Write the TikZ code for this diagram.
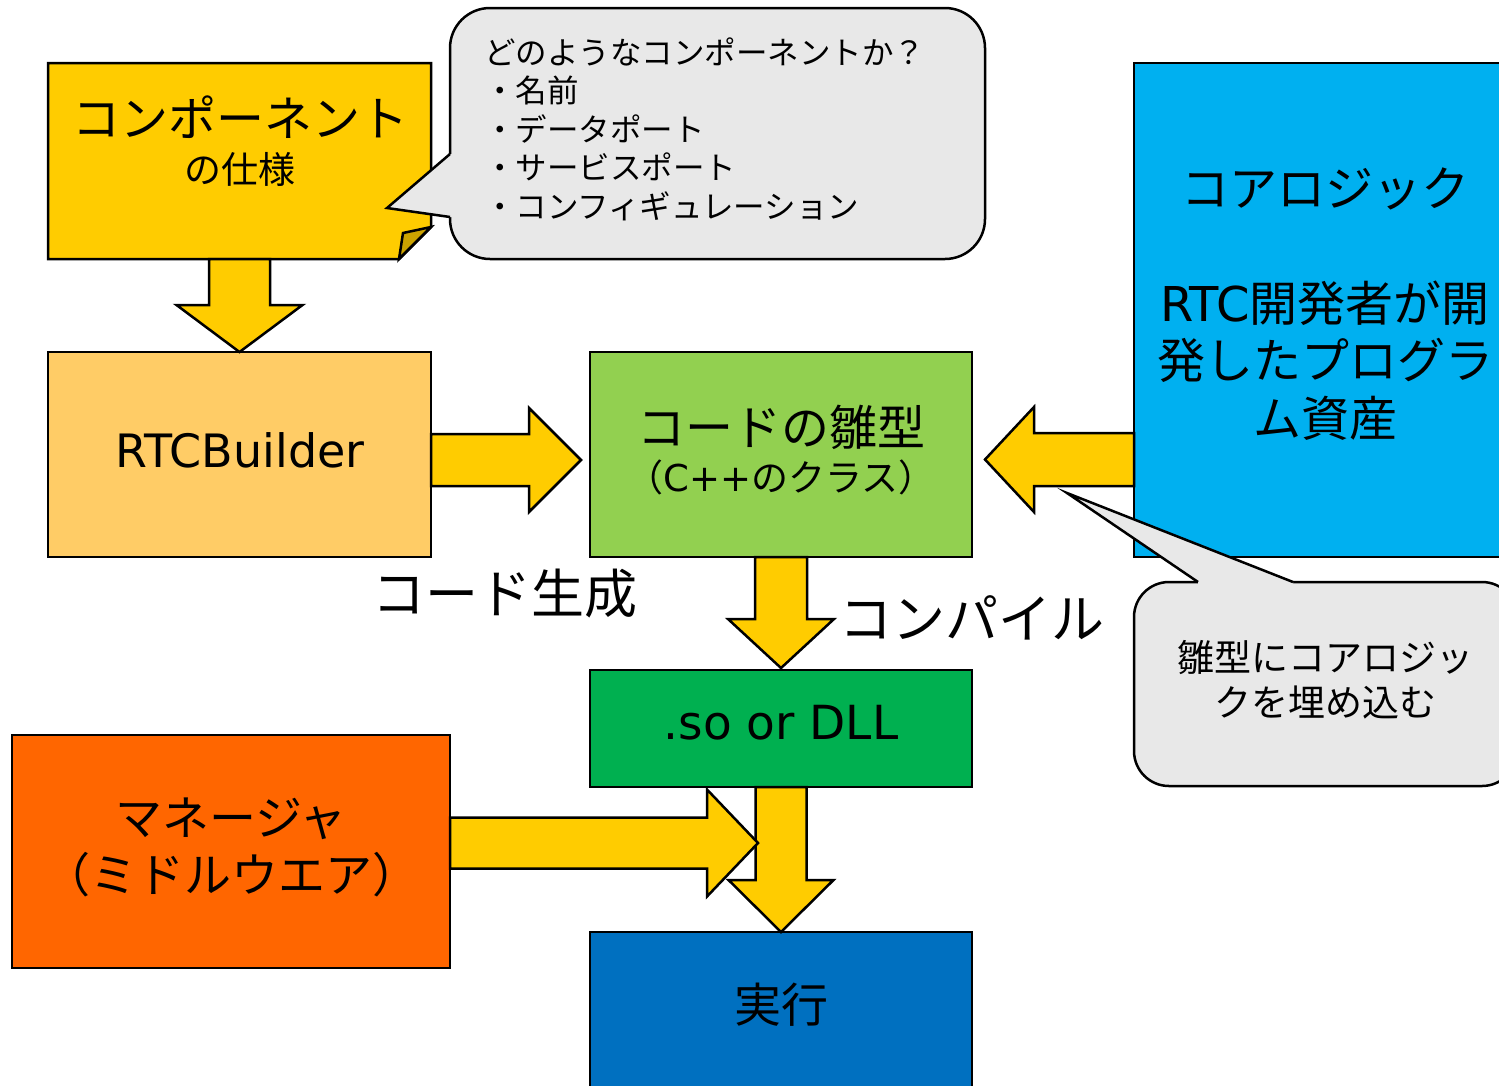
\documentclass[tikz,border=0pt]{standalone}
\usepackage{fontspec}
\setmainfont{Noto Sans CJK JP}
\newfontfamily\lat{DejaVu Sans}
\newfontfamily\hp[RawFeature=+halt]{Noto Sans CJK JP}
\usetikzlibrary{calc}
\definecolor{cSpec}{HTML}{FFCC00}
\definecolor{cFold}{HTML}{CCA300}
\definecolor{cBuild}{HTML}{FFCC66}
\definecolor{cArrow}{HTML}{FFCC00}
\definecolor{cGreen}{HTML}{92D050}
\definecolor{cCore}{HTML}{00B0F0}
\definecolor{cSo}{HTML}{00B050}
\definecolor{cMgr}{HTML}{FF6600}
\definecolor{cExec}{HTML}{0070C0}
\definecolor{cNote}{HTML}{E8E8E8}
\begin{document}
\begin{tikzpicture}[x=1pt,y=-1pt, line width=2.5pt,
  box/.style={draw=black, rectangle, inner sep=0pt, outer sep=0pt},
  barrow/.style={draw=black, fill=cArrow, line join=miter},
  notebox/.style={draw=black, fill=cNote, rectangle, inner sep=0pt, outer sep=0pt},
  txt/.style={inner sep=0pt, outer sep=0pt, align=center, text=black},
]
\useasboundingbox (0,0) rectangle (1499,1085);
\clip (0,0) rectangle (1499,1085);
\fill[white] (0,0) rectangle (1499,1085);

% ---------- boxes ----------
\node[inner sep=0pt, outer sep=0pt, minimum width=383, minimum height=196] (spec) at (239.5,161) {};
\draw[fill=cSpec, line join=miter] (spec.north west) -- (spec.north east)
  -- ($(spec.south east)+(0,-32)$) -- ($(spec.south east)+(-32,0)$) -- (spec.south west) -- cycle;
\draw[fill=cFold, line join=miter] ($(spec.south east)+(-32,0)$) -- ($(spec.south east)+(-28,-26)$)
  -- ($(spec.south east)+(0,-32)$) -- cycle;

\node[box, fill=cBuild, minimum width=383, minimum height=205] (builder) at (239.5,454.5) {};
\node[box, fill=cGreen, minimum width=382, minimum height=205] (green) at (781,454.5) {};
\node[box, fill=cCore, minimum width=383, minimum height=494] (core) at (1325.5,310) {};
\node[box, fill=cSo, minimum width=382, minimum height=117] (so) at (781,728.5) {};
\node[box, fill=cMgr, minimum width=438, minimum height=233] (mgr) at (231,851.5) {};
\node[box, fill=cExec, minimum width=382, minimum height=205] (exec) at (781,1034.5) {};

% ---------- block arrows ----------
% spec -> builder
\draw[barrow] ($(spec.south)+(-30.5,0)$) -- ($(builder.north)+(-30.5,-47)$) -- ($(builder.north)+(-63,-47)$)
  -- (builder.north) -- ($(builder.north)+(63,-47)$) -- ($(builder.north)+(30.5,-47)$)
  -- ($(spec.south)+(30.5,0)$) -- cycle;
% builder -> green
\coordinate (a2s) at ($(builder.east)+(0,5.5)$);
\coordinate (a2t) at ($(green.west)+(-9,5.5)$);
\draw[barrow] ($(a2s)+(0,-26)$) -- ($(a2t)+(-52,-26)$) -- ($(a2t)+(-52,-52)$) -- (a2t)
  -- ($(a2t)+(-52,52)$) -- ($(a2t)+(-52,26)$) -- ($(a2s)+(0,26)$) -- cycle;
% core -> green
\coordinate (a3s) at ($(core.west |- green.east)+(0,5)$);
\coordinate (a3t) at ($(green.east)+(13,5)$);
\draw[barrow] ($(a3s)+(0,-26.5)$) -- ($(a3t)+(49,-26.5)$) -- ($(a3t)+(49,-52.5)$) -- (a3t)
  -- ($(a3t)+(49,52.5)$) -- ($(a3t)+(49,26.5)$) -- ($(a3s)+(0,26.5)$) -- cycle;
% green -> so
\coordinate (a4t) at ($(so.north)+(0,-2)$);
\draw[barrow] ($(green.south)+(-26,0)$) -- ($(a4t)+(-26,-49)$) -- ($(a4t)+(-53,-49)$) -- (a4t)
  -- ($(a4t)+(53,-49)$) -- ($(a4t)+(26,-49)$) -- ($(green.south)+(26,0)$) -- cycle;
% so -> exec
\draw[barrow] ($(so.south)+(-25.5,0)$) -- ($(exec.north)+(-25.5,-52)$) -- ($(exec.north)+(-52.5,-52)$) -- (exec.north)
  -- ($(exec.north)+(52.5,-52)$) -- ($(exec.north)+(25.5,-52)$) -- ($(so.south)+(25.5,0)$) -- cycle;
% mgr -> (merge)
\coordinate (a6s) at ($(mgr.east)+(0,-8.5)$);
\coordinate (a6t) at ($(mgr.east -| exec.north)+(-23,-8.5)$);
\draw[barrow] ($(a6s)+(0,-25.5)$) -- ($(a6t)+(-51,-25.5)$) -- ($(a6t)+(-51,-53.5)$) -- (a6t)
  -- ($(a6t)+(-51,53.5)$) -- ($(a6t)+(-51,25.5)$) -- ($(a6s)+(0,25.5)$) -- cycle;

% ---------- callouts ----------
\node[notebox, rounded corners=40, minimum width=535, minimum height=251] (note1) at (717.5,133.5) {};
\fill[cNote] ($(note1.west)+(0,20.5)$) -- ($(note1.west)+(-63,74.5)$) -- ($(note1.west)+(0,83.5)$)
  -- ($(note1.west)+(4,83.5)$) -- ($(note1.west)+(4,20.5)$) -- cycle;
\draw[line join=miter] ($(note1.west)+(0,20.5)$) -- ($(note1.west)+(-63,74.5)$) -- ($(note1.west)+(0,83.5)$);

\node[notebox, rounded corners=35, minimum width=383, minimum height=204] (note2) at (1325.5,684) {};
\fill[cNote] ($(note2.north)+(-127.5,0)$) -- ($(note2.north)+(-258.5,-89)$) -- ($(note2.north)+(-32.5,0)$)
  -- ($(note2.north)+(-32.5,4)$) -- ($(note2.north)+(-127.5,4)$) -- cycle;
\draw[line join=miter] ($(note2.north)+(-127.5,0)$) -- ($(note2.north)+(-258.5,-89)$) -- ($(note2.north)+(-32.5,0)$);

% ---------- texts ----------
\node[txt, font=\fontsize{48}{56}\selectfont] (specA) at (240,117) {コンポーネント};
\node[txt, font=\fontsize{37}{44}\selectfont] (specB) at (240,169) {の仕様};
\node[txt, font=\lat\fontsize{46}{54}\selectfont] (builderT) at (240,450) {RTCBuilder};
\node[txt, font=\fontsize{48}{56}\selectfont] (greenA) at (781,427) {コードの雛型};
\node[txt, font=\fontsize{37}{44}\selectfont] (greenB) at (781,477) {{\hp（}{\lat C++}のクラス{\hp）}};
\node[txt, font=\fontsize{48}{57.5}\selectfont] (coreT) at (1325,304)
  {コアロジック\\[57.5pt]{\lat RTC}開発者が開\\発したプログラ\\ム資産};
\node[txt, font=\lat\fontsize{47}{55}\selectfont] (soT) at (781,723) {.so or DLL};
\node[txt, font=\fontsize{47}{57}\selectfont] (mgrT) at (231,847) {マネージャ\\{\hp（}ミドルウエア{\hp）}};
\node[txt, font=\fontsize{47}{55}\selectfont] (execT) at (781,1005) {実行};
\node[txt, font=\fontsize{53}{60}\selectfont] (genT) at (505,594) {コード生成};
\node[txt, font=\fontsize{53}{60}\selectfont] (compT) at (972,618) {コンパイル};
\node[txt, align=left, anchor=west, font=\fontsize{31.5}{38.5}\selectfont] (note1T) at (484,129)
  {どのようなコンポーネントか？\\・名前\\・データポート\\・サービスポート\\・コンフィギュレーション};
\node[txt, font=\fontsize{37}{45}\selectfont] (note2T) at (1325,679.5) {雛型にコアロジッ\\クを埋め込む};
\end{tikzpicture}
\end{document}
